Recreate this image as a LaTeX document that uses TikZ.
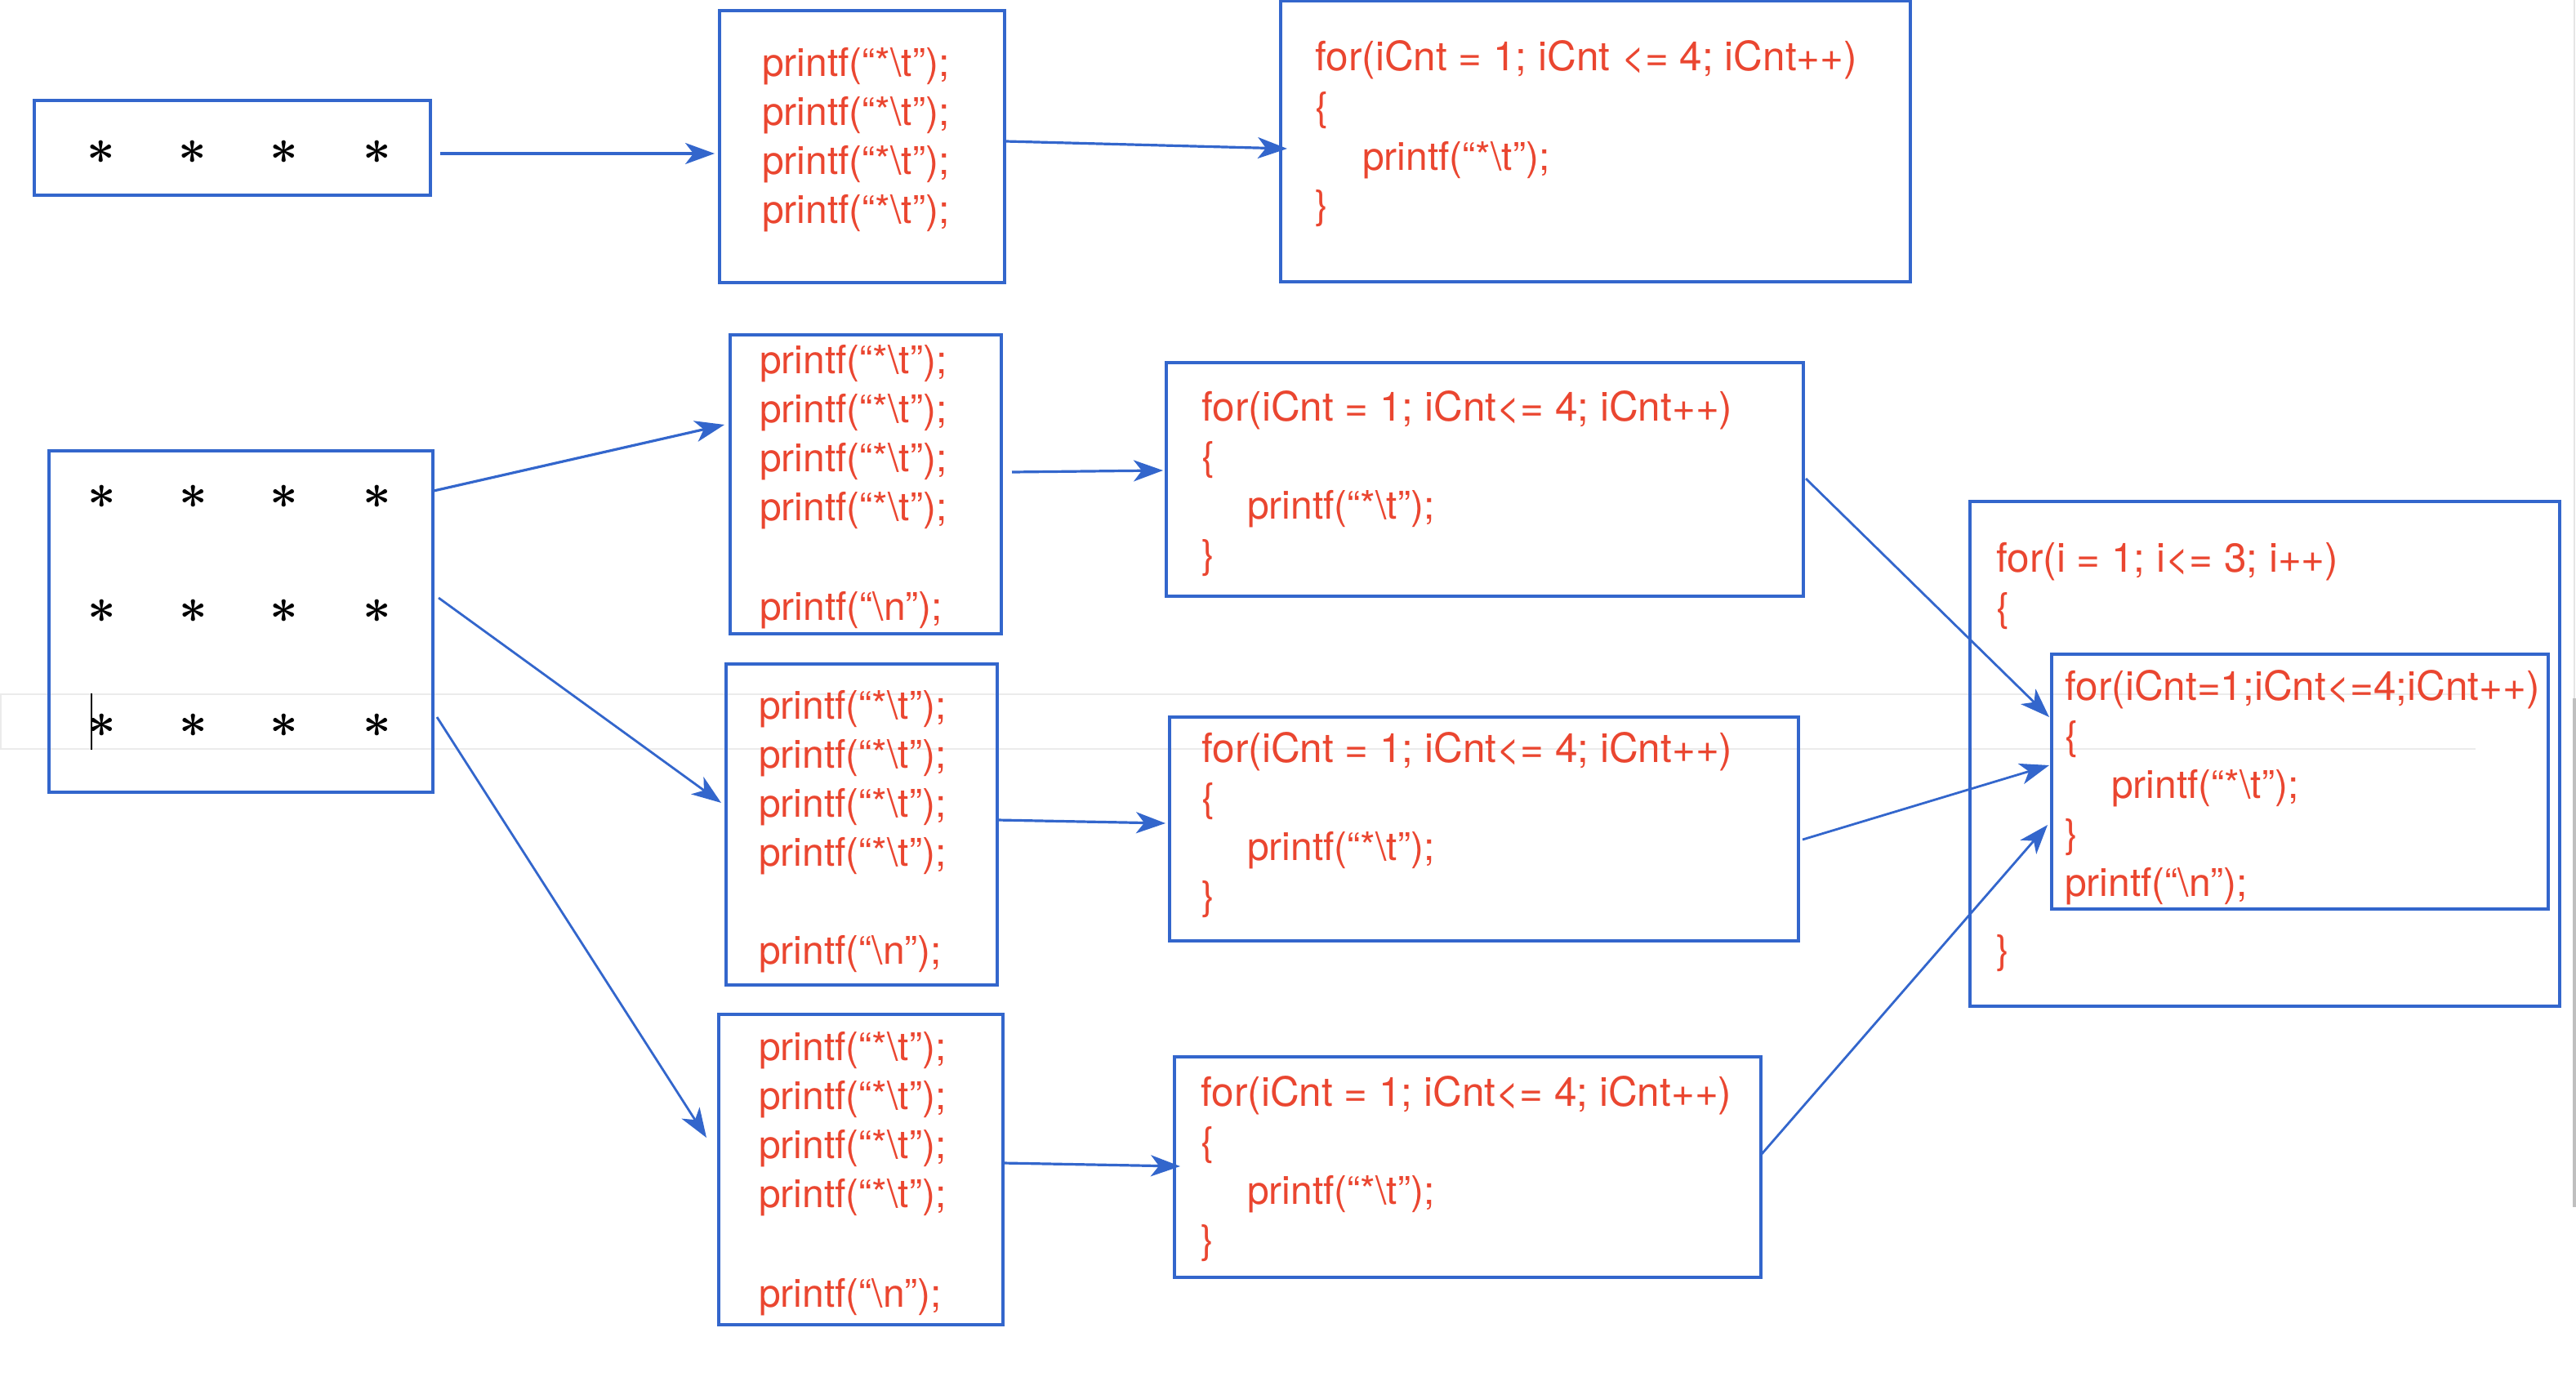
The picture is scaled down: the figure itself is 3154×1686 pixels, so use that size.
\documentclass[tikz,border=0pt]{standalone}
\usepackage{fontspec}
\usetikzlibrary{arrows.meta,calc}
\newfontfamily\codefont{TeX Gyre Heros}
\definecolor{lineblue}{RGB}{51,102,204}
\definecolor{codered}{RGB}{234,70,48}
\definecolor{bandgray}{RGB}{235,235,235}
\newcommand\pstar{printf(“*\textbackslash t”);}
\newcommand\pnl{printf(“\textbackslash n”);}
\newcommand\forcnt{for(iCnt = 1; iCnt<= 4; iCnt++)}

\begin{document}
\begin{tikzpicture}[x=1pt,y=-1pt,
  box/.style={draw=lineblue, line width=3.5pt, inner sep=0pt, outer sep=0pt, anchor=north west},
  code/.style={text=codered, font=\codefont\fontsize{48}{60}\selectfont, anchor=base west, inner sep=0pt},
  loophead/.style={code, font=\codefont\fontsize{49.5}{60}\selectfont},
  starmark/.style={font=\fontsize{10}{12}\selectfont\boldmath, scale=6, inner sep=0pt, anchor=base},
  link/.style={draw=lineblue, line width=3.2pt, -{Stealth[length=36pt,width=26pt,inset=10pt]}},
  thinlink/.style={link, line width=2.8pt},
]
\useasboundingbox (0,0) rectangle (3154,1686);

% light band across the middle and the window edge on the right
\draw[bandgray, line width=2pt] (3031,850) -- (1,850) -- (1,917) -- (3031,917);
\draw[gray!20, line width=2pt] (3152,0) -- (3152,855);
\draw[gray!50, line width=4pt] (3152,855) -- (3152,1478);

% boxes
\node[box, minimum width=485pt, minimum height=116pt] (A) at (42,123) {};
\node[box, minimum width=349pt, minimum height=333pt] (B) at (881,13) {};
\node[box, minimum width=771pt, minimum height=344pt] (C) at (1568,1) {};
\node[box, minimum width=470pt, minimum height=418pt] (D) at (60,552) {};
\node[box, minimum width=332pt, minimum height=366pt] (E1) at (894,410) {};
\node[box, minimum width=332pt, minimum height=393pt] (E2) at (889,813) {};
\node[box, minimum width=348pt, minimum height=380pt] (E3) at (880,1242) {};
\node[box, minimum width=780pt, minimum height=286pt] (F1) at (1428,444) {};
\node[box, minimum width=770pt, minimum height=274pt] (F2) at (1432,878) {};
\node[box, minimum width=718pt, minimum height=270pt] (F3) at (1438,1294) {};
\node[box, minimum width=722pt, minimum height=618pt] (G) at (2412,614) {};
\node[box, minimum width=608pt, minimum height=312pt] (H) at (2512,801) {};

% stars
\foreach \x [count=\i] in {124,236,348,462}
  \node[starmark] (a\i) at (\x,200) {$\ast$};
\foreach \y [count=\r] in {622,762,902}
  \foreach \x [count=\i] in {125,237,348,462}
    \node[starmark] (d\r\i) at (\x,\y) {$\ast$};
\draw[black, line width=2pt] (112,849) -- (112,918);

% straight-line code
\foreach \y [count=\i] in {93,153,213,273}
  \node[code] (b\i) at (933,\y) {\pstar};
\foreach \y [count=\i] in {457,517,577,637}
  \node[code] (ea\i) at (930,\y) {\pstar};
\node[code] (ean) at (930,759) {\pnl};
\foreach \y [count=\i] in {880,940,1000,1060}
  \node[code] (eb\i) at (929,\y) {\pstar};
\node[code] (ebn) at (929,1180) {\pnl};
\foreach \y [count=\i] in {1298,1358,1418,1478}
  \node[code] (ec\i) at (929,\y) {\pstar};
\node[code] (ecn) at (929,1600) {\pnl};

% inner loops
\node[loophead] (c1) at (1610,87) {for(iCnt = 1; iCnt <= 4; iCnt++)};
\node[code] (c2) at (1610,147) {\{};
\node[code] (c3) at (1668,208) {\pstar};
\node[code] (c4) at (1610,267) {\}};

\node[loophead] (fa1) at (1471,515) {\forcnt};
\node[code] (fa2) at (1471,575) {\{};
\node[code] (fa3) at (1527,635) {\pstar};
\node[code] (fa4) at (1471,695) {\}};

\node[loophead] (fb1) at (1471,933) {\forcnt};
\node[code] (fb2) at (1471,993) {\{};
\node[code] (fb3) at (1527,1053) {\pstar};
\node[code] (fb4) at (1471,1113) {\}};

\node[loophead] (fc1) at (1470,1354) {\forcnt};
\node[code] (fc2) at (1470,1414) {\{};
\node[code] (fc3) at (1527,1474) {\pstar};
\node[code] (fc4) at (1470,1534) {\}};

% nested loops
\node[loophead] (g1) at (2444,700) {for(i = 1; i<= 3; i++)};
\node[code] (g2) at (2444,760) {\{};
\node[code] (g3) at (2444,1179) {\}};

\node[loophead] (h1) at (2528,857) {for(iCnt=1;iCnt<=4;iCnt++)};
\node[code] (h2) at (2528,917) {\{};
\node[code] (h3) at (2585,977) {\pstar};
\node[code] (h4) at (2528,1037) {\}};
\node[code] (h5) at (2528,1097) {\pnl};

% connectors
\draw[link] ($(A.north west)+(497,65)$) -- ($(B.north west)+(-6,175)$);
\draw[link] ($(B.north west)+(350,160)$) -- ($(C.north west)+(8,181)$);
\draw[link] ($(D.north west)+(471,49)$) -- ($(E1.north west)+(-7,110)$);
\draw[thinlink] ($(D.north west)+(477,180)$) -- ($(E2.north west)+(-6,170)$);
\draw[thinlink] ($(D.north west)+(475,326)$) -- ($(E3.north west)+(-15,151)$);
\draw[link] ($(E1.north west)+(345,168)$) -- ($(F1.north west)+(-4,132)$);
\draw[link] ($(E2.north west)+(332,191)$) -- ($(F2.north west)+(-5,130)$);
\draw[link] ($(E3.north west)+(348,182)$) -- ($(F3.north west)+(7,134)$);
\draw[thinlink] ($(F1.north west)+(783,142)$) -- ($(H.north west)+(-3,77)$);
\draw[thinlink] ($(F2.north west)+(775,150)$) -- ($(H.north west)+(-3,136)$);
\draw[thinlink] ($(F3.north west)+(719,119)$) -- ($(H.north west)+(-5,209)$);
\end{tikzpicture}
\end{document}
